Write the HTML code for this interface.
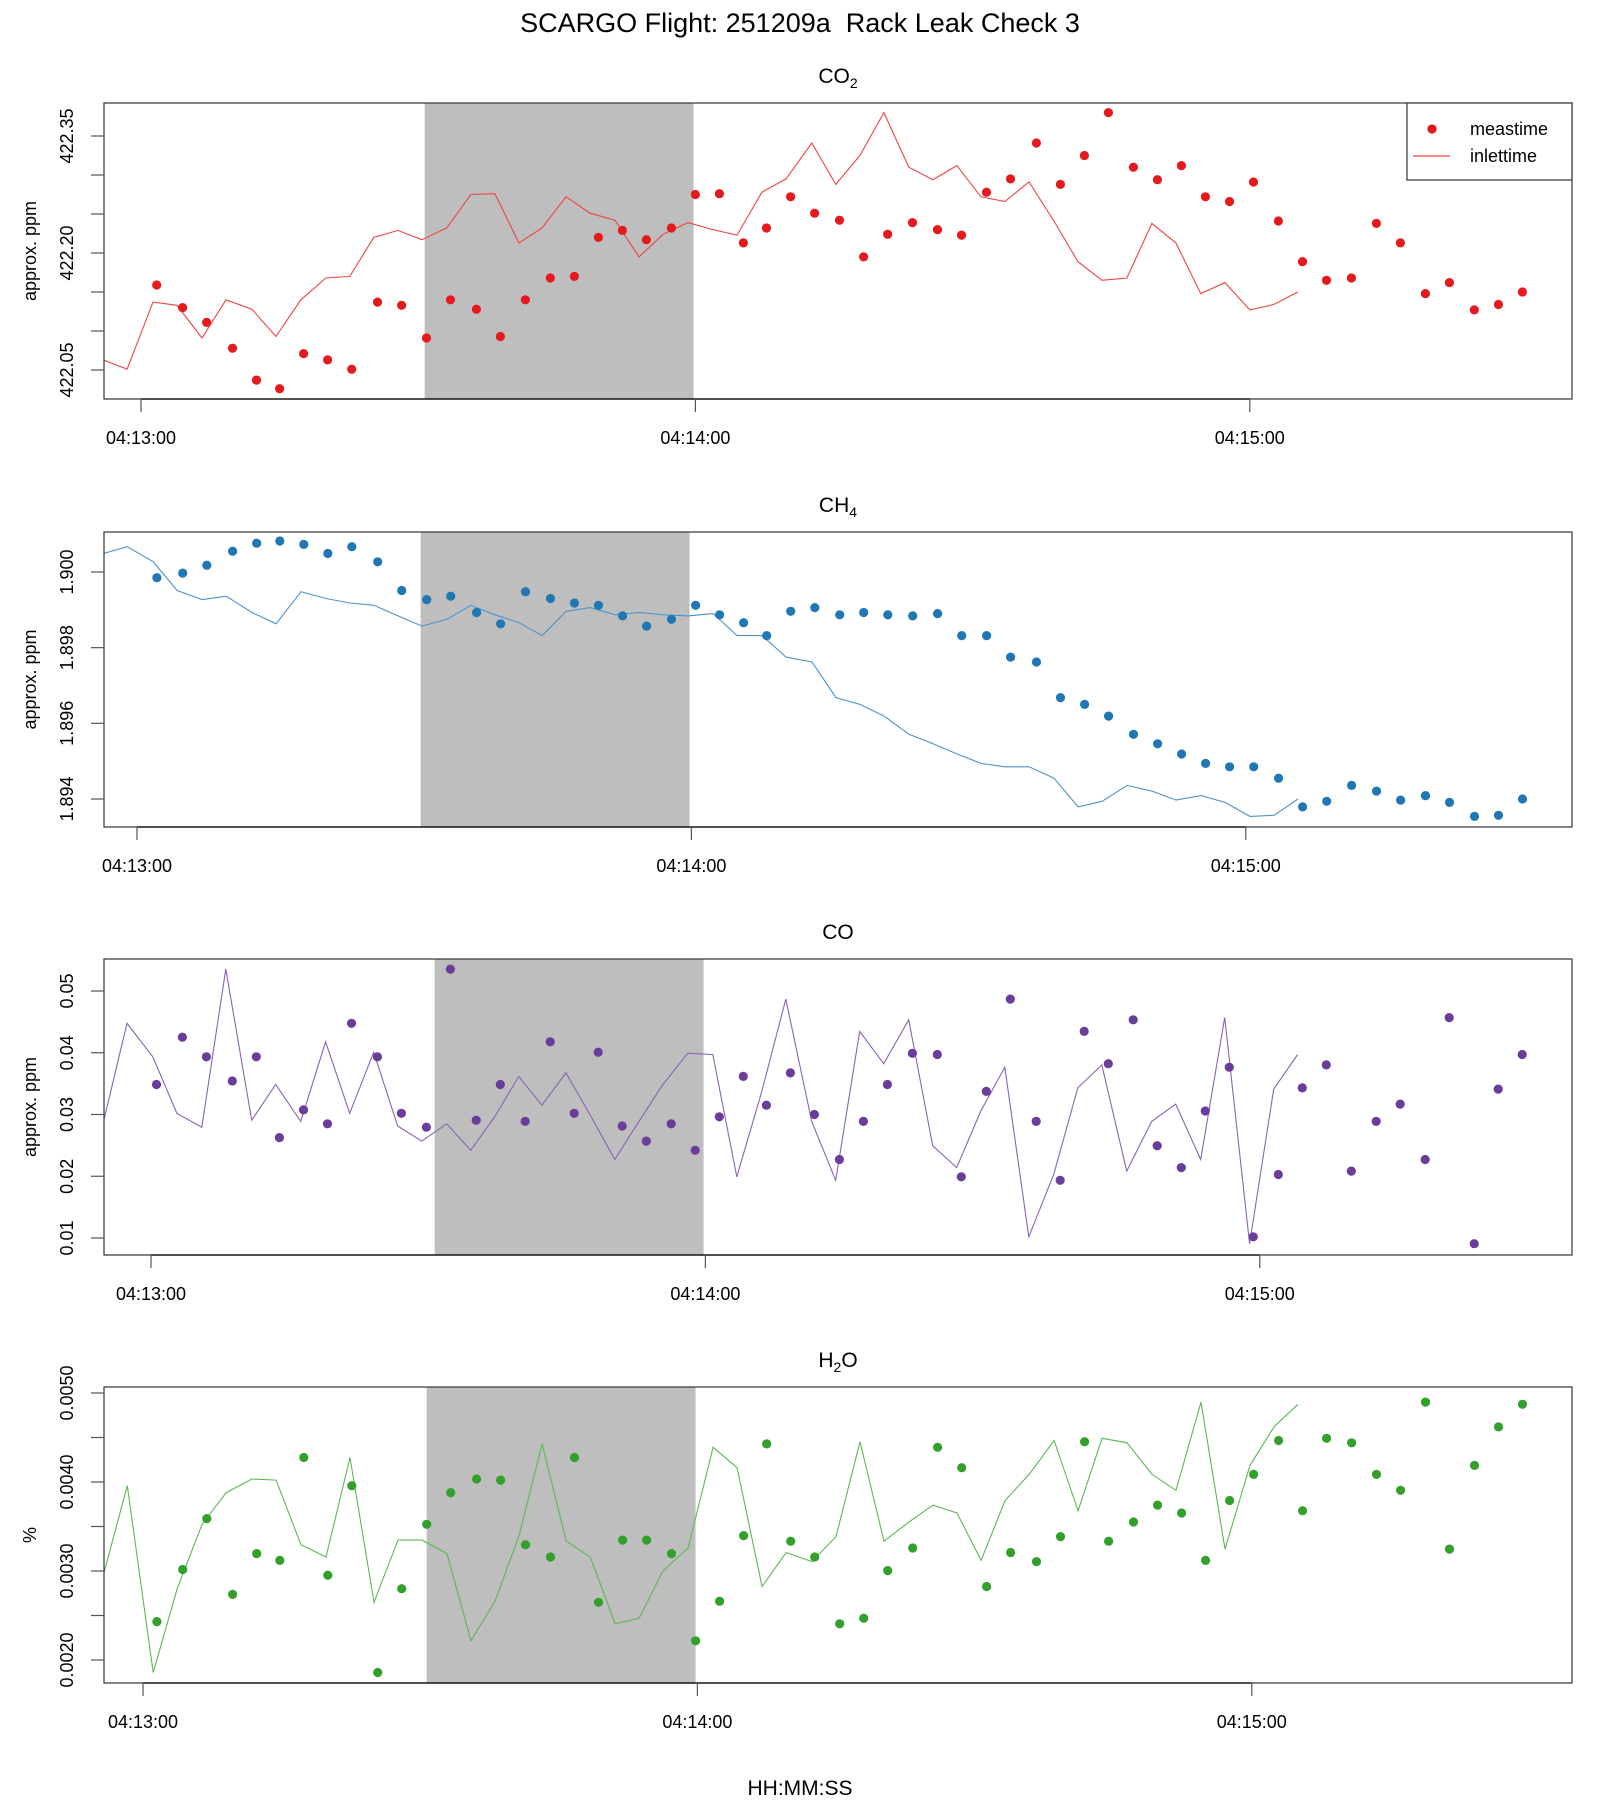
<!DOCTYPE html>
<html><head><meta charset="utf-8">
<style>
html,body{margin:0;padding:0;background:#fff;}
svg{display:block;font-family:"Liberation Sans",sans-serif;}
</style></head>
<body>
<svg id="fig" width="1600" height="1800" viewBox="0 0 1600 1800" xmlns="http://www.w3.org/2000/svg">
<text x="800" y="32" font-size="27" text-anchor="middle">SCARGO Flight: 251209a&#160; Rack Leak Check 3</text>
<text x="800" y="1795" font-size="21" text-anchor="middle">HH:MM:SS</text>
</svg>
<script>
// shared measurement times (seconds after 04:13:00, panel 1 clock)
const measTime = [1.7,4.5,7.1,9.9,12.5,15.0,17.6,20.2,22.8,25.6,28.2,30.9,33.5,36.3,38.9,41.6,44.3,46.9,49.5,52.1,54.7,57.4,60.0,62.6,65.2,67.7,70.3,72.9,75.6,78.2,80.8,83.5,86.2,88.8,91.5,94.1,96.9,99.5,102.1,104.7,107.4,110.0,112.6,115.2,117.8,120.4,123.1,125.7,128.3,131.0,133.7,136.3,139.0,141.6,144.3,146.9,149.5];
const inletLag = 24.3;
const co2Values = [422.159,422.130,422.111,422.078,422.037,422.026,422.071,422.063,422.051,422.137,422.133,422.091,422.140,422.128,422.093,422.140,422.168,422.170,422.220,422.229,422.217,422.232,422.275,422.276,422.213,422.232,422.272,422.251,422.242,422.195,422.224,422.239,422.230,422.223,422.278,422.295,422.341,422.288,422.325,422.380,422.310,422.294,422.312,422.272,422.266,422.291,422.241,422.189,422.165,422.168,422.238,422.213,422.148,422.162,422.127,422.134,422.150];
const ch4Values = [1.89985,1.89997,1.90018,1.90055,1.90076,1.90082,1.90073,1.90049,1.90067,1.90027,1.89951,1.89927,1.89936,1.89893,1.89863,1.89948,1.89930,1.89918,1.89912,1.89884,1.89857,1.89875,1.89912,1.89887,1.89866,1.89832,1.89896,1.89906,1.89887,1.89893,1.89887,1.89884,1.89890,1.89832,1.89832,1.89775,1.89762,1.89668,1.89650,1.89619,1.89571,1.89546,1.89519,1.89494,1.89485,1.89485,1.89455,1.89379,1.89394,1.89436,1.89421,1.89397,1.89409,1.89391,1.89354,1.89357,1.89400];
const coValues = [0.03486,0.04252,0.03935,0.03542,0.03935,0.02626,0.03075,0.02850,0.04477,0.03935,0.03019,0.02794,0.05355,0.02907,0.03486,0.02888,0.04178,0.03019,0.04009,0.02813,0.02570,0.02850,0.02421,0.02963,0.03617,0.03150,0.03673,0.03000,0.02271,0.02888,0.03486,0.03991,0.03972,0.01991,0.03374,0.04869,0.02888,0.01935,0.04346,0.03822,0.04533,0.02495,0.02140,0.03056,0.03766,0.01019,0.02028,0.03430,0.03804,0.02084,0.02888,0.03168,0.02271,0.04570,0.00907,0.03411,0.03972];
const h2oValues = [0.002432,0.003017,0.003589,0.002737,0.003195,0.003119,0.004275,0.002953,0.003958,0.001860,0.002801,0.003525,0.003881,0.004034,0.004021,0.003296,0.003157,0.004275,0.002648,0.003347,0.003347,0.003195,0.002216,0.002661,0.003398,0.004428,0.003335,0.003157,0.002407,0.002470,0.003004,0.003258,0.004390,0.004161,0.002826,0.003208,0.003106,0.003386,0.004453,0.003335,0.003551,0.003741,0.003652,0.003119,0.003792,0.004085,0.004466,0.003678,0.004491,0.004441,0.004085,0.003907,0.004898,0.003246,0.004186,0.004619,0.004873];
const timeTickLabels = ["04:13:00","04:14:00","04:15:00"];
const timeTickSeconds = [0,60,120];
const shadeSeconds = [30.7,59.8];
const co2Ticks = [422.35,422.30,422.25,422.20,422.15,422.10,422.05];
const co2TickLabels = ["422.35","","","422.20","","","422.05"];
const ch4Ticks = [1.900,1.898,1.896,1.894];
const ch4TickLabels = ["1.900","1.898","1.896","1.894"];
const coTicks = [0.05,0.04,0.03,0.02,0.01];
const coTickLabels = ["0.05","0.04","0.03","0.02","0.01"];
const h2oTicks = [0.0050,0.0045,0.0040,0.0035,0.0030,0.0025,0.0020];
const h2oTickLabels = ["0.0050","","0.0040","","0.0030","","0.0020"];
const legendLabels = ["meastime","inlettime"];

const NS = "http://www.w3.org/2000/svg";
const svg = document.getElementById('fig');
const L = 104, R = 1572, PXS = 9.24;
function mk(tag, attrs, parent){const e=document.createElementNS(NS,tag);for(const k in attrs)e.setAttribute(k,attrs[k]);(parent||svg).appendChild(e);return e;}

const panels = [
 {key:'co2', vals:co2Values, ticks:co2Ticks, labels:co2TickLabels, color:'#E41A1C', lineColor:'#EE4446', top:103, bot:399, t0x:141, shift:0, v1:422.35, y1:136, v2:422.05, y2:370, ylab:'approx. ppm', legend:true},
 {key:'ch4', vals:ch4Values, ticks:ch4Ticks, labels:ch4TickLabels, color:'#1F78B4', lineColor:'#4A94CB', top:532, bot:827, t0x:137, shift:0.45, v1:1.900, y1:572, v2:1.894, y2:799, ylab:'approx. ppm'},
 {key:'co', vals:coValues, ticks:coTicks, labels:coTickLabels, color:'#6A3D9A', lineColor:'#8A62B5', top:959, bot:1255, t0x:151, shift:-1.1, v1:0.05, y1:991, v2:0.01, y2:1238, ylab:'approx. ppm'},
 {key:'h2o', vals:h2oValues, ticks:h2oTicks, labels:h2oTickLabels, color:'#33A02C', lineColor:'#5BB855', top:1387, bot:1683, t0x:143, shift:-0.2, v1:0.0050, y1:1393, v2:0.0020, y2:1660, ylab:'%'}
];
const titles = [['CO','2'],['CH','4'],['CO',''],['H','2','O']];

panels.forEach((p,pi)=>{
  const g = mk('g',{});
  
  
  const xs = t => p.t0x + (t + p.shift) * PXS;
  const xc = t => p.t0x + t * PXS;
  const ys = v => p.y1 + (p.v1 - v) / (p.v1 - p.v2) * (p.y2 - p.y1);
  const cp = mk('clipPath',{id:'clip'+pi},g);
  mk('rect',{x:L,y:p.top,width:R-L,height:p.bot-p.top},cp);
  const sh = mk('rect',{x:xc(shadeSeconds[0]),y:p.top,width:xc(shadeSeconds[1])-xc(shadeSeconds[0]),height:p.bot-p.top,fill:'#BEBEBE'},g);
  
  
  const pts = measTime.map((t,i)=>xs(t-inletLag).toFixed(1)+','+ys(p.vals[i]).toFixed(1)).join(' ');
  const ln = mk('polyline',{points:pts,fill:'none',stroke:p.lineColor,'stroke-width':1.1,'clip-path':'url(#clip'+pi+')'},g);
  
  
  measTime.forEach((t,i)=>{
    const c = mk('circle',{cx:xs(t).toFixed(1),cy:ys(p.vals[i]).toFixed(1),r:4.6,fill:p.color,'clip-path':'url(#clip'+pi+')'},g);
    
    
  });
  const bx = mk('rect',{x:L,y:p.top,width:R-L,height:p.bot-p.top,fill:'none',stroke:'#333','stroke-width':1.2},g);
  
  
  mk('line',{x1:xc(timeTickSeconds[0]),x2:xc(timeTickSeconds[timeTickSeconds.length-1]),y1:p.bot,y2:p.bot,stroke:'#000','stroke-width':1.2},g);
  timeTickSeconds.forEach((s,i)=>{
    mk('line',{x1:xc(s),x2:xc(s),y1:p.bot,y2:p.bot+13,stroke:'#555','stroke-width':1.2},g);
    const tx = mk('text',{x:xc(s),y:p.bot+45,'font-size':18,'text-anchor':'middle'},g);
    tx.textContent = timeTickLabels[i];
    
    
  });
  p.ticks.forEach((v,i)=>{
    const y = ys(v);
    mk('line',{x1:L-13,x2:L,y1:y,y2:y,stroke:'#555','stroke-width':1.2},g);
    if(p.labels[i]){
      const tx = mk('text',{x:0,y:0,'font-size':18,'text-anchor':'middle',transform:'translate(73,'+y.toFixed(1)+') rotate(-90)'},g);
      tx.textContent = p.labels[i];
      
      
    }
  });
  const yl = mk('text',{x:0,y:0,'font-size':18,'text-anchor':'middle',transform:'translate(36,'+((p.top+p.bot)/2)+') rotate(-90)'},g);
  yl.textContent = p.ylab;
  
  
  const st = mk('text',{x:838,y:p.top-20,'font-size':21,'text-anchor':'middle'},g);
  
  
  const tp = titles[pi];
  const a = mk('tspan',{},st); a.textContent = tp[0];
  if(tp[1]){const b = mk('tspan',{'font-size':14,dy:5},st); b.textContent = tp[1];}
  if(tp[2]){const c = mk('tspan',{dy:-5},st); c.textContent = tp[2];}
  if(p.legend){
    const lg = mk('g',{},g);
    
    
    mk('rect',{x:1407,y:p.top,width:R-1407,height:77,fill:'#fff',stroke:'#333','stroke-width':1.2},lg);
    mk('circle',{cx:1432,cy:p.top+26,r:4.6,fill:p.color},lg);
    mk('line',{x1:1413,x2:1450,y1:p.top+53,y2:p.top+53,stroke:p.lineColor,'stroke-width':1.2},lg);
    legendLabels.forEach((s,i)=>{
      const t = mk('text',{x:1470,y:p.top+32+27*i,'font-size':18},lg);
      t.textContent = s;
      
      
    });
  }
});
</script>
</body></html>
